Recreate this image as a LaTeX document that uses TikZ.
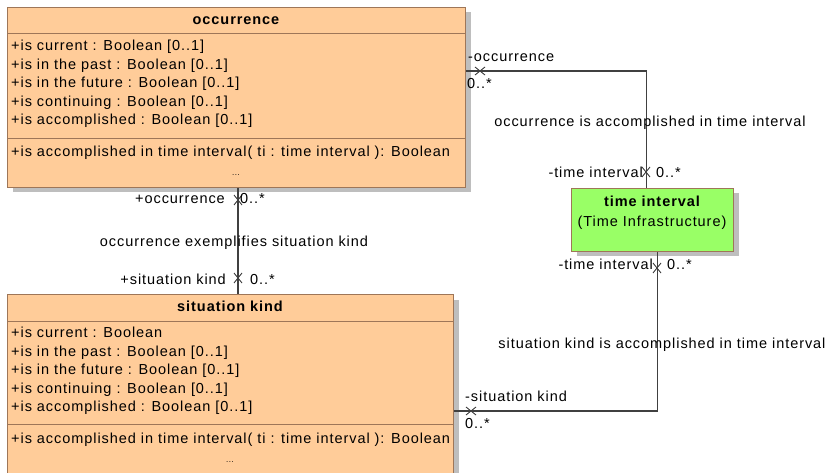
\documentclass[tikz,border=0pt]{standalone}
\usepackage{fontspec}
\setmainfont{Liberation Sans}[LetterSpace=6.5]
\usetikzlibrary{positioning,calc,shadows}
\definecolor{classfill}{RGB}{255,204,153}
\definecolor{classline}{RGB}{158,118,88}
\definecolor{refgreen}{RGB}{153,255,102}
\definecolor{shadowgray}{RGB}{190,190,190}
\definecolor{wireline}{RGB}{64,64,64}

\tikzset{xcross/.pic={\draw[wireline,line width=0.9pt] (-5,-4)--(5,4) (-5,4)--(5,-4);}}

\begin{document}
\begin{tikzpicture}[x=1pt,y=-1pt,font=\fontsize{14.5}{17}\selectfont,
 classbox/.style={draw=classline,fill=classfill,line width=1pt,anchor=north west,inner sep=0pt,
   drop shadow={shadow xshift=5pt,shadow yshift=-5pt,fill=shadowgray,opacity=1}},
 sep/.style={draw=classline,line width=1pt},
 attr/.style={anchor=mid west,inner sep=0pt,yshift=-3pt},
 lbl/.style={inner sep=0pt,anchor=mid,yshift=-3pt},
 dots/.style={inner sep=0pt,anchor=mid,yshift=-3pt,font=\fontsize{8}{9}\selectfont},
 assoc/.style={draw=wireline,line width=1.2pt}]
\useasboundingbox (0,0) rectangle (825,473);
% classes
\node[classbox,minimum width=458pt,minimum height=180pt] (occ) at (7,7) {};
\node[classbox,minimum width=446pt,minimum height=186pt] (sit) at (7,294) {};
\node[classbox,fill=refgreen,minimum width=162pt,minimum height=63pt] (ti) at (571,188) {};
\draw[sep] (occ.west |- 0,34) -- (occ.east |- 0,34);
\draw[sep] (occ.west |- 0,139) -- (occ.east |- 0,139);
\draw[sep] (sit.west |- 0,321) -- (sit.east |- 0,321);
\draw[sep] (sit.west |- 0,424) -- (sit.east |- 0,424);
\node[lbl,font=\fontsize{14.5}{17}\selectfont\bfseries] (occname) at (236,19) {occurrence};
\node[lbl,font=\fontsize{14.5}{17}\selectfont\bfseries] (sitname) at (230,306) {situation kind};
\node[lbl,font=\fontsize{14.5}{17}\selectfont\bfseries] (tiname) at (652,201) {time interval};
\node[lbl] (tipkg) at (652,221) {(Time Infrastructure)};
\foreach \t [count=\i] in {is current : Boolean [0..1],is in the past : Boolean [0..1],
  is in the future : Boolean [0..1],is continuing : Boolean [0..1],is accomplished  : Boolean [0..1]}
  \node[attr] (occattr\i) at (11,{45+18.5*(\i-1)}) {+\t};
\foreach \t [count=\i] in {is current : Boolean,is in the past : Boolean [0..1],
  is in the future : Boolean [0..1],is continuing : Boolean [0..1],is accomplished  : Boolean [0..1]}
  \node[attr] (sitattr\i) at (11,{332+18.5*(\i-1)}) {+\t};
\node[attr] (occop) at (11,151) {+is accomplished in time interval( ti : time interval ): Boolean};
\node[dots] (occdots) at (236,170) {...};
\node[attr] (sitop) at (11,438) {+is accomplished in time interval( ti : time interval ): Boolean};
\node[dots] (sitdots) at (230,457) {...};
% associations
\draw[assoc] (occ.east |- 0,71) -| ($(ti.north)+(-6,0)$);
\draw[assoc] (occ.south -| 238,0) -- (sit.north -| 238,0);
\draw[assoc] ($(ti.south)+(5,0)$) |- (sit.east |- 0,411);
\path (480,71) pic {xcross} (646,172) pic[rotate=90] {xcross}
  (238,200) pic[rotate=90] {xcross} (238,278) pic[rotate=90] {xcross}
  (657,268) pic[rotate=90] {xcross} (471,411) pic {xcross};
% association labels
\node[attr] (occrole1) at (468,56) {-occurrence};
\node[attr] (occmult1) at (467,83) {0..*};
\node[lbl] (asslbl1) at (650,121) {occurrence is accomplished in time interval};
\node[attr,anchor=mid east] (tirole1) at (643,172) {-time interval};
\node[attr] (timult1) at (656,172) {0..*};
\node[attr,anchor=mid east] (occrole2) at (225,198) {+occurrence};
\node[attr] (occmult2) at (240,198) {0..*};
\node[lbl] (asslbl2) at (234,241) {occurrence exemplifies situation kind};
\node[attr,anchor=mid east] (sitrole2) at (226,279) {+situation kind};
\node[attr] (sitmult2) at (250,279) {0..*};
\node[attr,anchor=mid east] (tirole3) at (653,264) {-time interval};
\node[attr] (timult3) at (667,264) {0..*};
\node[lbl] (asslbl3) at (662,343) {situation kind is accomplished in time interval};
\node[attr] (sitrole3) at (465,396) {-situation kind};
\node[attr] (sitmult3) at (465,423) {0..*};
\end{tikzpicture}
\end{document}
